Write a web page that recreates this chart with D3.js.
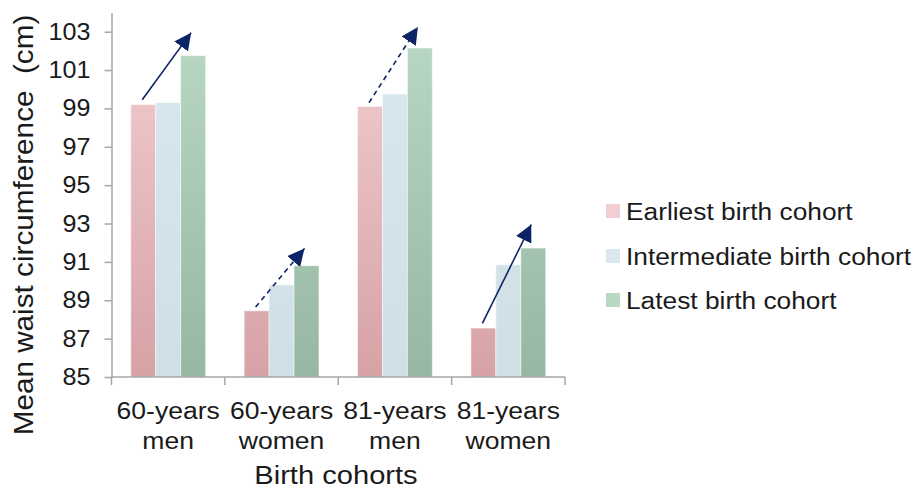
<!DOCTYPE html>
<html>
<head>
<meta charset="utf-8">
<script src="https://d3js.org/d3.v7.min.js"></script>
<style>
body { margin: 0; background: #fff; }
text { font-family: "Liberation Sans", Arial, sans-serif; fill: #1a1a1a; }
</style>
</head>
<body>
<div id="chart"></div>
<script>
// data
var groups = ["60-years men", "60-years women", "81-years men", "81-years women"];
var groupLines = [["60-years", "men"], ["60-years", "women"], ["81-years", "men"], ["81-years", "women"]];
var series = ["Earliest birth cohort", "Intermediate birth cohort", "Latest birth cohort"];
var earliest = [99.2, 88.45, 99.1, 87.55];
var intermediate = [99.3, 89.8, 99.75, 90.85];
var latest = [101.75, 90.8, 102.15, 91.72];
var yTicks = [85, 87, 89, 91, 93, 95, 97, 99, 101, 103];
// trend arrows (start / end value, dashed or not)
var arrowFrom = [99.45, 88.65, 99.3, 87.8];
var arrowTo = [102.95, 91.7, 103.25, 92.95];
var arrowDashed = [false, true, true, false];

var values = [earliest, intermediate, latest];
var topColors = ["#f2cdd1", "#d9e8ee", "#b9d8c4"];
var botColors = ["#d6a2a6", "#d0dfe6", "#96b7a1"];

var W = 916, H = 490;
var svg = d3.select("#chart").append("svg")
    .attr("width", W).attr("height", H);

// text in the picture is a bit wider than the font, stretch it
function stretch(sel, k) {
  sel.each(function() {
    var t = d3.select(this);
    var x = +t.attr("x") || 0;
    t.attr("transform", "translate(" + x + ",0) scale(" + k + ",1) translate(" + (-x) + ",0)");
  });
}

var x0 = d3.scaleBand().domain(groups).range([111.5, 565]).padding(0);
var x1 = d3.scaleBand().domain(series)
    .range([x0.bandwidth() * 0.17, x0.bandwidth() * 0.83]).padding(0);
var y = d3.scaleLinear().domain([85, 104]).range([377, 12.5]);

var defs = svg.append("defs");
series.forEach(function(s, i) {
  var g = defs.append("linearGradient").attr("id", "grad" + i)
    .attr("gradientUnits", "userSpaceOnUse")
    .attr("x1", 0).attr("x2", 0).attr("y1", y(103)).attr("y2", y(85));
  g.append("stop").attr("offset", "0%").attr("stop-color", topColors[i]);
  g.append("stop").attr("offset", "100%").attr("stop-color", botColors[i]);
});
defs.append("marker").attr("id", "head")
  .attr("viewBox", "0 0 10 10").attr("refX", 10).attr("refY", 5)
  .attr("markerWidth", 17).attr("markerHeight", 17)
  .attr("markerUnits", "userSpaceOnUse")
  .attr("orient", "auto")
  .append("path").attr("d", "M0,0L10,5L0,10Z").attr("fill", "#0c2465");

// bars
var rows = [];
groups.forEach(function(g, gi) {
  series.forEach(function(s, si) {
    rows.push({group: g, series: s, si: si, value: values[si][gi]});
  });
});
svg.append("g").selectAll("rect")
  .data(rows).enter().append("rect")
    .attr("x", function(d) { return x0(d.group) + x1(d.series); })
    .attr("y", function(d) { return y(d.value); })
    .attr("width", x1.bandwidth())
    .attr("height", function(d) { return y(85) - y(d.value); })
    .attr("fill", function(d) { return "url(#grad" + d.si + ")"; })
    .attr("stroke", "#ffffff").attr("stroke-opacity", 0.5).attr("stroke-width", 1);

// y axis
var yAxis = svg.append("g").attr("transform", "translate(111.5,0)")
  .call(d3.axisLeft(y).tickValues(yTicks).tickSize(7).tickPadding(14).tickSizeOuter(0));
yAxis.select(".domain").attr("stroke", "#a6a6a6").attr("stroke-width", 1.5);
yAxis.selectAll(".tick line").attr("stroke", "#a6a6a6").attr("stroke-width", 1.5);
yAxis.selectAll(".tick text")
  .style("font-size", "23.5px").style("font-family", "'Liberation Sans', Arial, sans-serif")
  .attr("fill", "#1a1a1a")
  .call(stretch, 1.07);

// x axis
var xg = svg.append("g").attr("transform", "translate(0," + y(85) + ")");
xg.append("line").attr("x1", 111.5).attr("x2", 565).attr("y1", 0).attr("y2", 0)
  .attr("stroke", "#a6a6a6").attr("stroke-width", 1.5);
var bounds = groups.map(function(g) { return x0(g); }).concat([x0(groups[3]) + x0.bandwidth()]);
xg.selectAll("line.tk").data(bounds).enter().append("line").attr("class", "tk")
  .attr("x1", function(d) { return d; }).attr("x2", function(d) { return d; })
  .attr("y1", 0).attr("y2", 8)
  .attr("stroke", "#a6a6a6").attr("stroke-width", 1.5);
groups.forEach(function(g, gi) {
  var cx = x0(g) + x0.bandwidth() / 2;
  var t = xg.append("text").attr("text-anchor", "middle")
    .attr("x", cx)
    .style("font-size", "23.5px");
  t.append("tspan").attr("x", cx).attr("y", 42).text(groupLines[gi][0]);
  t.append("tspan").attr("x", cx).attr("y", 72).text(groupLines[gi][1]);
  t.call(stretch, 1.13);
});

// arrows
groups.forEach(function(g, gi) {
  var line = svg.append("line")
    .attr("x1", x0(g) + x1(series[0]) + x1.bandwidth() / 2 - 1)
    .attr("y1", y(arrowFrom[gi]))
    .attr("x2", x0(g) + x1(series[2]) + x1.bandwidth() / 2 - 2)
    .attr("y2", y(arrowTo[gi]))
    .attr("stroke", "#0c2465").attr("stroke-width", 1.6)
    .attr("marker-end", "url(#head)");
  if (arrowDashed[gi]) line.attr("stroke-dasharray", "5,4");
});

// axis titles
svg.append("text").attr("text-anchor", "middle")
  .attr("transform", "translate(33,225)rotate(-90)scale(1.08,1)")
  .style("font-size", "27.5px").text("Mean waist circumference\u00a0 (cm)");
svg.append("text").attr("text-anchor", "middle")
  .attr("x", 336).attr("y", 484)
  .style("font-size", "26px").text("Birth cohorts")
  .call(stretch, 1.12);

// legend
var leg = svg.append("g").attr("transform", "translate(606,0)");
var legY = [211, 256, 300];
series.forEach(function(s, i) {
  leg.append("rect").attr("x", 0).attr("y", legY[i] - 7).attr("width", 14).attr("height", 14)
    .attr("fill", topColors[i]);
  leg.append("text").attr("x", 20).attr("y", legY[i] + 9)
    .style("font-size", "23.5px").text(s)
    .call(stretch, 1.12);
});
</script>
</body>
</html>
